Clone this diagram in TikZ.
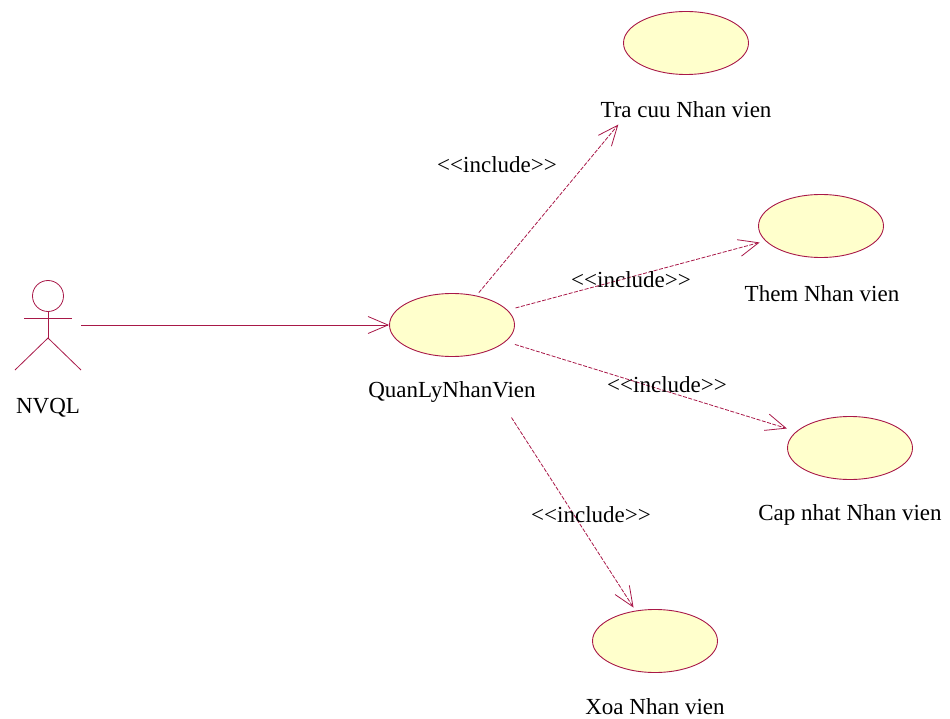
\documentclass[tikz,border=0pt]{standalone}
\usepackage{fontspec}
\setmainfont{Liberation Serif}
\usetikzlibrary{arrows.meta,calc,shapes.geometric}
\definecolor{umlline}{RGB}{168,24,72}
\definecolor{ucfill}{RGB}{255,255,204}
\tikzset{
  usecase/.style={ellipse, draw=umlline, fill=ucfill, line width=0.9pt,
    minimum width=125pt, minimum height=63pt, inner sep=0pt},
  uclabel/.style={font=\fontsize{23}{27}\selectfont, inner sep=0pt},
  assoc/.style={draw=umlline, line width=0.8pt,
    -{Straight Barb[length=20pt,width=17pt]}},
  incl/.style={assoc, dash pattern=on 4pt off 1.5pt},
  actorbox/.style={minimum width=66pt, minimum height=90pt, inner sep=0pt},
  stick/.style={draw=umlline, line width=0.8pt},
}
\newcommand{\incltext}{<\kern0pt<include>\kern0pt>}
\begin{document}
\begin{tikzpicture}[x=1pt,y=-1pt]
\useasboundingbox (0,0) rectangle (950,719);

% actor
\node[actorbox] (nvql) at (48,325) {};
\draw[stick] (48,296) circle (15.5);
\draw[stick] (48,311.5) -- (48,338);
\draw[stick] (24,318) -- (72,318);
\draw[stick] (15,370) -- (48,338) -- (81,370);
\node[uclabel] (nvqlL) at (48,408) {NVQL};

% use cases
\node[usecase] (quan) at (452,325) {};
\node[uclabel] (quanL) at (452,392) {QuanLyNhanVien};

\node[usecase] (tracuu) at (686,43) {};
\node[uclabel] (tracuuL) at (686,110) {Tra cuu Nhan vien};

\node[usecase] (them) at (821,226) {};
\node[uclabel] (themL) at (822,294) {Them Nhan vien};

\node[usecase] (capnhat) at (850,448) {};
\node[uclabel] (capnhatL) at (850,515) {Cap nhat Nhan vien};

\node[usecase] (xoa) at (655,641) {};
\node[uclabel] (xoaL) at (655,707) {Xoa Nhan vien};

% association
\draw[assoc] (nvql.east) -- (quan);

% include relations
\draw[incl] ($(quan)!42pt!(tracuu)$) -- ($(tracuu)!106pt!(quan)$);
\draw[incl] ($(quan)!65.8pt!(them)$) -- ($(them)!63.6pt!(quan)$);
\draw[incl] ($(quan)!65.8pt!(capnhat)$) -- ($(capnhat)!66.1pt!(quan)$);
\draw[incl] ($(quan)!110pt!(xoa)$) -- ($(xoa)!39.7pt!(quan)$);

\node[uclabel] (s1) at (497,165) {\incltext};
\node[uclabel] (s2) at (631,280) {\incltext};
\node[uclabel] (s3) at (667,385) {\incltext};
\node[uclabel] (s4) at (591,515) {\incltext};
\end{tikzpicture}
\end{document}
